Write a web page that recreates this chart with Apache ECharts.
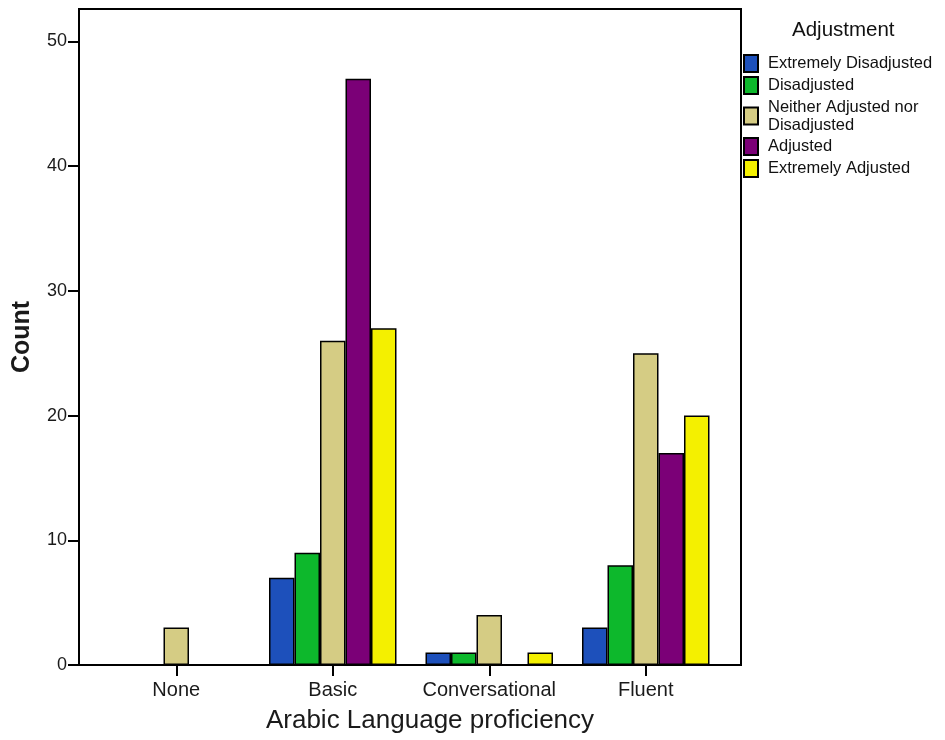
<!DOCTYPE html>
<html>
<head>
<meta charset="utf-8">
<script src="https://cdn.jsdelivr.net/npm/echarts@6/dist/echarts.min.js"></script>
<style>
  html, body { margin: 0; padding: 0; background: #fff; }
  #chart { width: 945px; height: 740px; }
</style>
</head>
<body>
<div id="chart"></div>
<script>
const categories = ['None', 'Basic', 'Conversational', 'Fluent']
const groups = ['Extremely Disadjusted', 'Disadjusted', 'Neither Adjusted nor\nDisadjusted', 'Adjusted', 'Extremely Adjusted']
const extremelyDisadjusted = [0, 7, 1, 3]
const disadjusted = [0, 9, 1, 8]
const neither = [3, 26, 4, 25]
const adjusted = [0, 47, 0, 17]
const extremelyAdjusted = [0, 27, 1, 20]
const yTicks = [0, 10, 20, 30, 40, 50]
const colors = ['#1d50bb', '#0db82c', '#d5cc84', '#7b0077', '#f4f000']

const font = 'Arial, "Liberation Sans", sans-serif'
const values = [extremelyDisadjusted, disadjusted, neither, adjusted, extremelyAdjusted]

const chart = echarts.init(document.getElementById('chart'), null, { renderer: 'canvas' })
chart.setOption({
  animation: false,
  color: colors,
  textStyle: { fontFamily: font },
  title: {
    text: 'Adjustment',
    left: 787,
    top: 15,
    textStyle: { fontSize: 20.5, fontWeight: 'normal', color: '#111', fontFamily: font }
  },
  legend: {
    orient: 'vertical',
    left: 738,
    top: 49,
    itemWidth: 14,
    itemHeight: 17,
    itemGap: 3,
    icon: 'rect',
    textStyle: { fontSize: 16.5, color: '#111', lineHeight: 18, padding: [0, 0, 0, 5], fontFamily: font },
    data: groups
  },
  grid: [
    { left: 79, right: 204, top: 9, bottom: 75, outerBoundsMode: 'none', show: true, borderColor: '#000', borderWidth: 2, backgroundColor: 'transparent' },
    { left: 98, right: 221, top: 9, bottom: 75, outerBoundsMode: 'none' }
  ],
  xAxis: [
    { gridIndex: 0, type: 'value', show: false },
    {
      gridIndex: 1,
      type: 'category',
      data: categories,
      axisLine: { show: false },
      axisTick: { show: true, alignWithLabel: true, length: 11, lineStyle: { color: '#000', width: 2 } },
      axisLabel: { interval: 0, fontSize: 20, color: '#1a1a1a', margin: 15, fontFamily: font },
      name: 'Arabic Language proficiency',
      nameLocation: 'middle',
      nameGap: 43,
      nameTextStyle: { fontSize: 26, color: '#1a1a1a', padding: [0, 0, 0, 38], fontFamily: font }
    }
  ],
  yAxis: [
    { gridIndex: 0, type: 'value', show: false },
    {
      gridIndex: 1,
      type: 'value',
      min: 0,
      max: 52.6,
      interval: 10,
      offset: 19,
      splitLine: { show: false },
      axisLine: { show: true, lineStyle: { color: '#000', width: 2 } },
      axisTick: { show: true, length: 11, customValues: yTicks, lineStyle: { color: '#000', width: 2 } },
      axisLabel: { fontSize: 18, color: '#1a1a1a', margin: 12, customValues: yTicks, fontFamily: font },
      name: 'Count',
      nameLocation: 'middle',
      nameGap: 44,
      nameTextStyle: { fontSize: 25, fontWeight: 'bold', color: '#1a1a1a', fontFamily: font }
    }
  ],
  series: groups.map((g, i) => ({
    name: g,
    type: 'bar',
    xAxisIndex: 1,
    yAxisIndex: 1,
    barWidth: 25.5,
    barGap: '0%',
    itemStyle: { color: colors[i], borderColor: '#000', borderWidth: 1.5 },
    data: values[i].map(v => (v === 0 ? null : v))
  }))
})
</script>
</body>
</html>
